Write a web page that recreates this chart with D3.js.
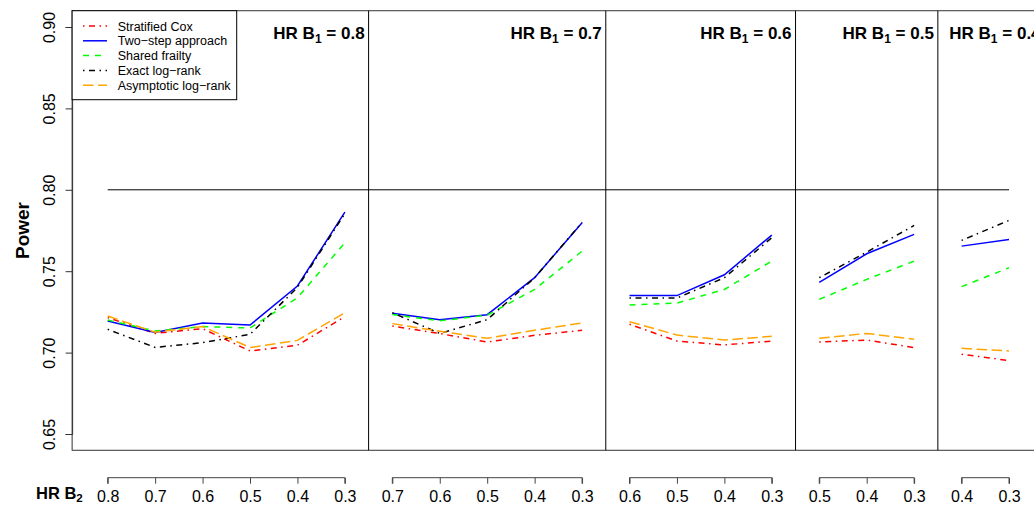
<!DOCTYPE html>
<html>
<head>
<meta charset="utf-8">
<script src="https://cdn.jsdelivr.net/npm/d3@7/dist/d3.min.js"></script>
<style>
  html, body { margin: 0; padding: 0; background: #fff; }
  svg { display: block; font-family: "Liberation Sans", Arial, Helvetica, sans-serif; }
</style>
</head>
<body>
<svg id="chart" width="1034" height="506"></svg>
<script>
// ---- Data ----
const panelB1 = [0.8, 0.7, 0.6, 0.5, 0.4];
const hrB2 = [
  [0.8, 0.7, 0.6, 0.5, 0.4, 0.3],
  [0.7, 0.6, 0.5, 0.4, 0.3],
  [0.6, 0.5, 0.4, 0.3],
  [0.5, 0.4, 0.3],
  [0.4, 0.3]
];
const yTicks = [0.65, 0.70, 0.75, 0.80, 0.85, 0.90];
const targetPower = 0.80;

const stratifiedCox = [0.7215, 0.7118, 0.7147, 0.7010, 0.7045, 0.7221,
                       0.7163, 0.7117, 0.7065, 0.7106, 0.7137,
                       0.7174, 0.7071, 0.7047, 0.7071,
                       0.7065, 0.7077, 0.7031,
                       0.6990, 0.6951];
const twoStep = [0.7194, 0.7123, 0.7182, 0.7169, 0.7409, 0.7863,
                 0.7241, 0.7202, 0.7233, 0.7460, 0.7798,
                 0.7350, 0.7350, 0.7478, 0.7722,
                 0.7431, 0.7607, 0.7726,
                 0.7654, 0.7695];
const sharedFrailty = [0.7200, 0.7133, 0.7160, 0.7151, 0.7337, 0.7675,
                       0.7234, 0.7195, 0.7230, 0.7388, 0.7623,
                       0.7292, 0.7304, 0.7388, 0.7562,
                       0.7327, 0.7450, 0.7562,
                       0.7405, 0.7521];
const exactLogRank = [0.7143, 0.7032, 0.7061, 0.7112, 0.7400, 0.7855,
                      0.7245, 0.7118, 0.7202, 0.7460, 0.7800,
                      0.7335, 0.7335, 0.7460, 0.7706,
                      0.7460, 0.7617, 0.7781,
                      0.7689, 0.7812];
const asymptoticLogRank = [0.7225, 0.7125, 0.7160, 0.7031, 0.7075, 0.7245,
                           0.7178, 0.7131, 0.7088, 0.7137, 0.7182,
                           0.7190, 0.7108, 0.7077, 0.7100,
                           0.7088, 0.7118, 0.7082,
                           0.7026, 0.7010];

const seriesNames = ["Stratified Cox", "Two\u2212step approach", "Shared frailty",
                     "Exact log\u2212rank", "Asymptotic log\u2212rank"];
const seriesValues = [stratifiedCox, twoStep, sharedFrailty, exactLogRank, asymptoticLogRank];
const seriesColors = ["#FF0000", "#0000FF", "#00FF00", "#000000", "#FFA500"];
const seriesDash = ["1.5,4.5,6,4.5", null, "6,6", "1.5,4.5,6,4.5", "10.5,4.5"];

// ---- Scales ----
const svg = d3.select("#chart");
const x = d3.scaleLinear().domain([1, 20]).range([107.7, 1009.0]);
const y = d3.scaleLinear().domain([0.65, 0.90]).range([434, 27]);
const xL = x(0.25), xR = x(20.75), yT = y(0.91), yB = y(0.64);

// panel index ranges
let start = 1;
const panels = hrB2.map((arr, k) => {
  const idx = arr.map((_, j) => start + j);
  const p = { b1: panelB1[k], b2: arr, idx, s: start, e: start + arr.length - 1 };
  start += arr.length;
  return p;
});

// ---- Box ----
svg.append("rect").attr("x", xL).attr("y", yT).attr("width", xR - xL).attr("height", yB - yT)
  .attr("fill", "none").attr("stroke", "#333").attr("stroke-width", 1);

// separators
panels.slice(0, -1).forEach(p => {
  svg.append("line").attr("x1", x(p.e + 0.5)).attr("x2", x(p.e + 0.5))
    .attr("y1", yT).attr("y2", yB).attr("stroke", "#000").attr("stroke-width", 1);
});

// target line
svg.append("line").attr("x1", x(1)).attr("x2", x(20)).attr("y1", y(targetPower)).attr("y2", y(targetPower))
  .attr("stroke", "#000").attr("stroke-width", 1);

// ---- Y axis ----
const yAxis = svg.append("g").attr("transform", `translate(${xL},0)`)
  .call(d3.axisLeft(y).tickValues(yTicks).tickSize(6.5).tickFormat(d3.format(".2f")));
yAxis.select(".domain").attr("stroke", "#333");
yAxis.selectAll(".tick line").attr("stroke", "#333");
yAxis.selectAll(".tick text").remove();
yAxis.selectAll(".tick").append("text")
  .attr("transform", "translate(-17,0) rotate(-90)")
  .attr("text-anchor", "middle").attr("fill", "#000")
  .attr("font-size", 16).text(d => d3.format(".2f")(d));

svg.append("text").attr("transform", `translate(28.5,${(yT + yB) / 2}) rotate(-90)`)
  .attr("text-anchor", "middle").attr("font-weight", "bold").attr("font-size", 19).text("Power");

// ---- Bottom axes per panel ----
panels.forEach(p => {
  const g = svg.append("g").attr("transform", "translate(0,477.7)");
  const ax = d3.axisBottom(x).tickValues(p.idx).tickSize(6)
    .tickFormat((d, i) => d3.format(".1f")(p.b2[i]));
  g.call(ax);
  g.select(".domain").attr("stroke", "#444").attr("d", `M${x(p.s)},6V0H${x(p.e)}V6`);
  g.selectAll(".tick line").attr("stroke", "#444");
  g.selectAll(".tick text").attr("font-size", 16).attr("fill", "#000").attr("y", 0)
    .attr("dy", 0).attr("transform", "translate(0,24.5)").attr("font-family", "Liberation Sans, Arial, sans-serif");
});
svg.select("g:last-child");
const hb2 = svg.append("text").attr("x", 36).attr("y", 499).attr("font-weight", "bold").attr("font-size", 16.5);
hb2.append("tspan").text("HR B");
hb2.append("tspan").attr("font-size", 11.5).attr("dy", 3).text("2");

// ---- Panel titles ----
panels.forEach((p, k) => {
  const right = (k < panels.length - 1) ? x(p.e + 0.5) : xR;
  const t = svg.append("text").attr("x", right - 4).attr("y", 39).attr("text-anchor", "end")
    .attr("font-weight", "bold").attr("font-size", 17);
  t.append("tspan").text("HR B");
  t.append("tspan").attr("font-size", 12).attr("dy", 3.5).text("1");
  t.append("tspan").attr("dy", -3.5).text(" = " + d3.format(".1f")(p.b1));
});

// ---- Lines ----
const line = d3.line().x(d => x(d.i)).y(d => y(d.v));
seriesValues.forEach((vals, s) => {
  panels.forEach(p => {
    const pts = p.idx.map(i => ({ i, v: vals[i - 1] }));
    svg.append("path").attr("d", line(pts)).attr("fill", "none")
      .attr("stroke", seriesColors[s]).attr("stroke-width", 1.5)
      .attr("stroke-dasharray", seriesDash[s]);
  });
});

// ---- Legend ----
const lg = svg.append("g");
lg.append("rect").attr("x", xL).attr("y", yT).attr("width", 236.7 - xL).attr("height", 99.7 - yT)
  .attr("fill", "#fff").attr("stroke", "#000").attr("stroke-width", 1);
seriesNames.forEach((name, s) => {
  const cy = 26 + s * 14.8;
  lg.append("line").attr("x1", 83).attr("x2", 107).attr("y1", cy).attr("y2", cy)
    .attr("stroke", seriesColors[s]).attr("stroke-width", 1.5).attr("stroke-dasharray", seriesDash[s]);
  lg.append("text").attr("x", 117.7).attr("y", cy + 4.5).attr("font-size", 12.5).text(name);
});
</script>
</body>
</html>
